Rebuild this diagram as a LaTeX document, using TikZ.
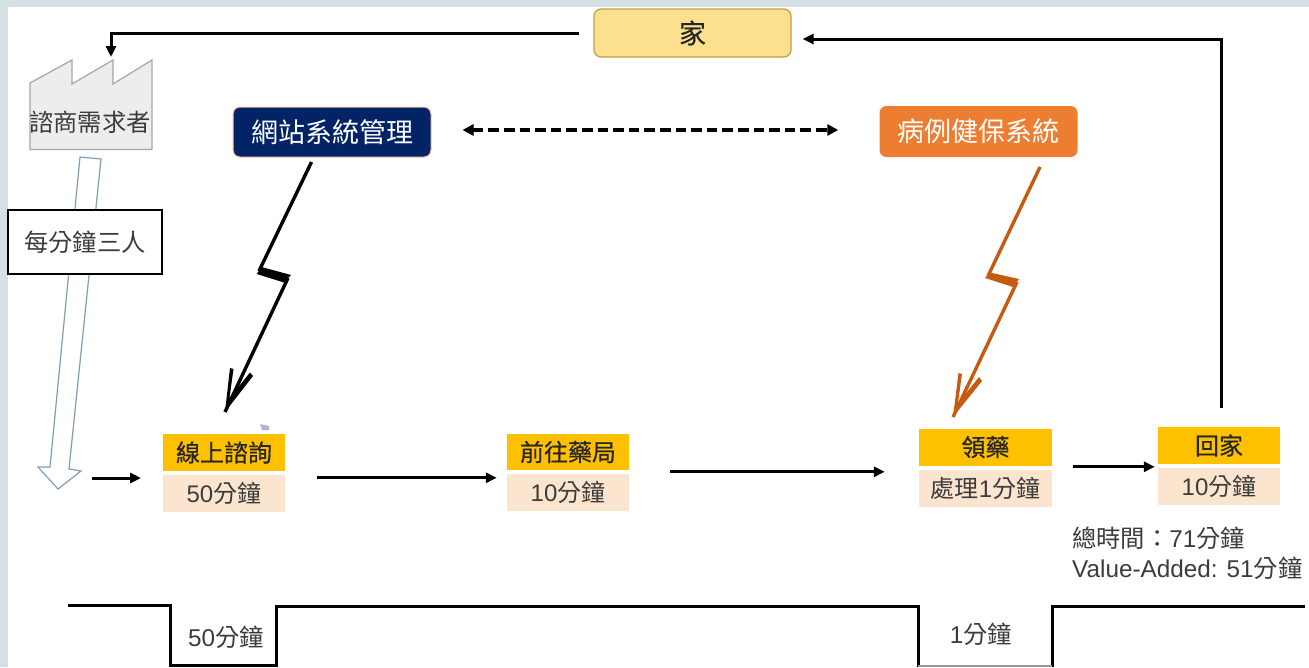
\documentclass[tikz,border=0pt]{standalone}
\usepackage{fontspec}
\setmainfont{Liberation Sans}
\newfontfamily\cjf{Noto Sans CJK TC}
\newfontfamily\cjm[FakeBold=0.5]{Noto Sans CJK TC}
\newcommand\cj[1]{{\cjf #1}}
\usetikzlibrary{arrows.meta}
\definecolor{bgc}{HTML}{D5E0E3}
\definecolor{titlec}{HTML}{FFC000}
\definecolor{valc}{HTML}{FCE5CF}
\definecolor{txtc}{HTML}{3C3C3C}
\definecolor{navyc}{HTML}{022366}
\definecolor{orgc}{HTML}{ED7D31}
\definecolor{boltc}{HTML}{C55A11}
\definecolor{hollow}{HTML}{7F9FB3}
\definecolor{homec}{HTML}{FCE08F}
\definecolor{homeb}{HTML}{BFA040}
\tikzset{
  titlebox/.style={fill=titlec,minimum height=37pt,inner sep=0pt,text=black!85,font=\fontsize{24}{26}\selectfont\cjm},
  valbox/.style={fill=valc,minimum height=37pt,inner sep=0pt,text=txtc,font=\fontsize{24}{26}\selectfont},
  plain/.style={inner sep=0pt,text=txtc,font=\fontsize{24.3}{26}\selectfont},
  flow/.style={line width=3pt,-{Triangle[length=11pt,width=10pt]}},
  bolt/.style={line width=3.4pt,line join=miter},
  sysbox/.style={rounded corners=7pt,minimum width=198pt,minimum height=50pt,inner sep=0pt,text=white,font=\fontsize{27}{29}\selectfont\cjf},
}
\begin{document}
\begin{tikzpicture}[x=1pt,y=-1pt]
\useasboundingbox (0,0) rectangle (1309,667);
\fill[bgc] (0,0) rectangle (1309,667);
\fill[white] (8,7) rectangle (1309,667);

% factory
\draw[fill=black!7,draw=black!35,line width=1.2pt,line join=miter]
  (30,83)--(72,60)--(72,84)--(113,60)--(113,84)--(152,60)--(152,149.5)--(30,149.5)--cycle;
\node[plain] (fac) at (90,122) {\cj{諮商需求者}};

% hollow arrow
\draw[hollow,fill=white,line width=1.2pt,line join=miter]
  (80,157)--(101,159)--(69,469)--(81,471)--(58,489)--(38,467)--(50,467)--cycle;
\node[draw=black,fill=white,line width=1.2pt,minimum width=154pt,minimum height=64pt,inner sep=0pt,text=txtc,font=\fontsize{24.3}{26}\selectfont] (rate) at (85,242) {\cj{每分鐘三人}};

% top nodes
\node[draw=homeb,line width=1.2pt,fill=homec,rounded corners=7pt,minimum width=197pt,minimum height=48pt,inner sep=0pt,text=black!85,font=\fontsize{27}{29}\selectfont\cjm] (home) at (692.5,33) {家};
\node[sysbox,fill=navyc,draw=valc!70!orgc,line width=1pt] (web) at (332,132) {網站系統管理};
\node[sysbox,fill=orgc,minimum height=51pt] (ill) at (978.5,131.5) {病例健保系統};

% stations
\node[titlebox,minimum width=122pt] (t1) at (224,452.5) {線上諮詢};
\node[valbox,minimum width=122pt] (v1) at (224,493.5) {50\cj{分鐘}};
\node[titlebox,minimum width=122pt,minimum height=36pt] (t2) at (568,452) {前往藥局};
\node[valbox,minimum width=122pt] (v2) at (568,492.5) {10\cj{分鐘}};
\node[titlebox,minimum width=133pt] (t3) at (985.5,447) {領藥};
\node[valbox,minimum width=133pt] (v3) at (985.5,488.5) {\cj{處理}1\cj{分鐘}};
\node[titlebox,minimum width=122pt] (t4) at (1219,445.5) {回家};
\node[valbox,minimum width=122pt] (v4) at (1219,486.5) {10\cj{分鐘}};

% speck
\fill[blue!35!gray!45] (260,424)--(269,426)--(269,430)--(262,430)--cycle;

% texts
\node[plain,anchor=west] (tot) at (1072,538) {\cj{總時間：}71\cj{分鐘}};
\node[plain,anchor=west] (va) at (1072,568) {Value-Added: 51\cj{分鐘}};
\node[plain] (w1) at (226,637) {50\cj{分鐘}};
\node[plain] (w2) at (981,634) {1\cj{分鐘}};

% coordinates of free ends and bends
\coordinate (factop) at (111,57);
\coordinate (inflow) at (92,478);
\coordinate (oc) at (953,417);
\coordinate (bc) at (225,412);
\coordinate (ltop) at (311.5,162);
\coordinate (otop) at (1040,167);
\coordinate (ba) at (259,271);
\coordinate (bb) at (288,278);
\coordinate (oa) at (988,276);
\coordinate (ob) at (1017,282);

% flows
\draw[flow] (inflow) -- ++(49,0) coordinate (inflowend);
\draw[flow,shorten <=32pt,shorten >=10pt] ([yshift=-3pt]v1.north east) -- ([yshift=-4pt]v2.north west);
\draw[flow,shorten <=41pt,shorten >=34pt] ([yshift=2pt]v2.north east) -- ([yshift=-2pt]v3.north west);
\draw[flow,shorten <=21pt,shorten >=3pt] ([yshift=3pt]v3.north east) -- ([yshift=1pt]v4.north west);
\draw[flow,line join=miter,shorten <=19pt,shorten >=11pt] ([xshift=2pt]t4.north) |- ([yshift=-6pt]home.east);
\draw[flow,line join=miter,shorten <=14pt] (home.west) -| (factop);
\draw[line width=3.6pt,dash pattern=on 10.6pt off 5pt,{Triangle[length=11pt,width=11pt]}-{Triangle[length=11pt,width=11pt]},shorten <=31pt,shorten >=41pt] ([yshift=2pt]web.east) -- ([yshift=1.5pt]ill.west);

% lightning black
\draw[bolt] (ltop) -- (ba);
\fill (261.6,267)--(291,275)--(284,282.5)--(256.7,274)--cycle;
\draw[bolt] (bb) -- (bc);
\fill (230,368)--(233.5,369)--(229.5,398)--(250,372.5)--(253,376)--(bc)--cycle;
% lightning orange
\draw[bolt,boltc] (otop) -- (oa);
\fill[boltc] (990,272.5)--(1019,279)--(1013,287)--(985,278)--cycle;
\draw[bolt,boltc] (ob) -- (oc);
\fill[boltc] (958.5,373)--(962,374)--(958,403)--(979,377)--(982,381)--(oc)--cycle;

% timeline
\draw[line width=3pt,line join=miter] (68,605.5)--(170,605.5)--(170,665)--(276,665)--(276,606)--(918,606)--(918,667);
\draw[line width=3pt,line join=miter] (1052,667)--(1052,606)--(1305,606);
\draw[line width=1.5pt,black!40] (918,666)--(1052,666);
\end{tikzpicture}
\end{document}
